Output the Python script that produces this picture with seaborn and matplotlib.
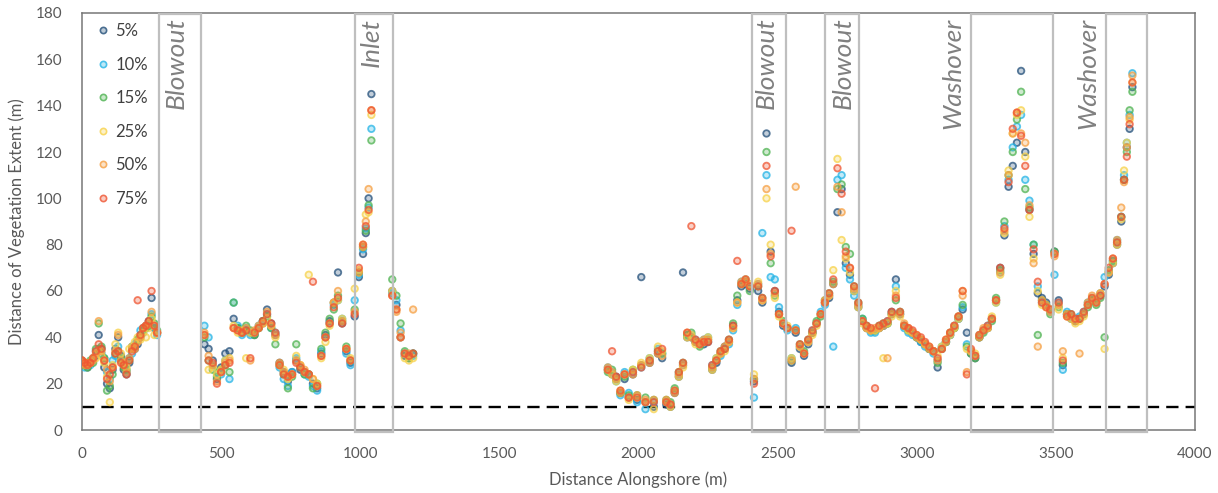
import matplotlib
matplotlib.use("Agg")
import matplotlib.pyplot as plt
from matplotlib.patches import Rectangle
from matplotlib.lines import Line2D
from matplotlib.colors import to_rgba
import pandas as pd
import seaborn as sns

# Transect positions along the shore (m)
x_m = [
    0, 10, 20, 30, 40, 50, 60, 70, 80, 90, 100, 110, 120, 130, 140, 150, 160, 170, 180, 190, 200, 210, 220, 230, 240, 250, 260, 270,
    440, 455, 470, 485, 500, 515, 530, 545, 560, 575, 590, 605, 620, 635, 650, 665, 680, 695, 710, 725, 740, 755, 770, 785, 800, 815,
    830, 845, 860, 875, 890, 905, 920, 935, 950, 965, 980, 995, 1010, 1020, 1030, 1040, 1115, 1130, 1145, 1160, 1175, 1190,
    1890, 1905, 1920, 1935, 1950, 1965, 1980, 1995, 2010, 2025, 2040, 2055, 2070, 2085, 2100, 2115,
    2130, 2145, 2160, 2175, 2190, 2205, 2220, 2235, 2250, 2265, 2280, 2295, 2310, 2325, 2340, 2355,
    2370, 2385, 2400, 2415, 2430, 2445, 2460, 2475, 2490, 2505, 2520, 2535, 2550, 2565, 2580, 2595,
    2610, 2625, 2640, 2655, 2670, 2685, 2700, 2715, 2730, 2745, 2760, 2775, 2790, 2805, 2820, 2835,
    2850, 2865, 2880, 2895, 2910, 2925, 2940, 2955, 2970, 2985, 3000, 3015, 3030, 3045, 3060, 3075,
    3090, 3105, 3120, 3135, 3150, 3165, 3180, 3195, 3210, 3225, 3240, 3255, 3270, 3285, 3300, 3315,
    3330, 3345, 3360, 3375, 3390, 3405, 3420, 3435, 3450, 3465, 3480, 3495, 3510, 3525, 3540, 3555,
    3570, 3585, 3600, 3615, 3630, 3645, 3660, 3675, 3690, 3705, 3720, 3735, 3745, 3755, 3765, 3775,
]

# Distance of vegetation extent (m) for each cover threshold
y_5 = [
    30, 28, 27, 29, 31, 32, 41, 35, 27, 20, 18, 26, 35, 40, 32, 26, 24, 29, 36, 35, 37, 41, 44, 45, 47, 57, 44, 42,
    37, 35, 30, 22, 27, 33, 34, 48, 44, 42, 43, 42, 41, 44, 47, 52, 46, 41, 29, 25, 21, 25, 30, 26, 25, 24,
    20, 18, 33, 41, 47, 55, 68, 46, 34, 29, 49, 66, 76, 85, 100, 145, 60, 54, 40, 32, 31, 33,
    26, 24, 23, 16, 22, 14, 24, 13, 66, 12, 29, 10, 33, 31, 11, 10,
    16, 23, 68, 40, 40, 38, 37, 37, 38, 26, 29, 33, 36, 38, 45, 56,
    62, 63, 61, 21, 60, 55, 128, 77, 60, 51, 45, 44, 29, 42, 35, 32,
    37, 42, 46, 50, 55, 57, 63, 94, 104, 72, 67, 60, 53, 47, 44, 43,
    43, 44, 45, 46, 51, 65, 50, 45, 43, 42, 40, 38, 37, 35, 34, 27,
    35, 38, 41, 44, 48, 52, 42, 33, 31, 40, 43, 44, 48, 56, 70, 84,
    105, 114, 124, 155, 120, 95, 76, 59, 57, 55, 52, 77, 56, 28, 50, 48,
    47, 48, 50, 54, 56, 55, 58, 62, 67, 72, 80, 90, 108, 122, 130, 148,
]
y_10 = [
    29, 27, 28, 28, 30, 34, 35, 33, 31, 25, 22, 30, 32, 36, 30, 28, 25, 31, 33, 37, 39, 43, 42, 44, 45, 50, 44, 41,
    45, 40, 28, 25, 24, 30, 22, 55, 45, 41, 44, 41, 42, 45, 46, 50, 44, 42, 27, 22, 19, 25, 31, 27, 24, 23,
    19, 17, 34, 40, 46, 54, 56, 48, 33, 28, 56, 67, 78, 87, 96, 130, 59, 56, 43, 33, 32, 32,
    27, 25, 21, 15, 25, 16, 25, 12, 27, 9, 31, 12, 35, 33, 12, 11,
    17, 24, 28, 41, 41, 39, 38, 39, 40, 28, 31, 32, 35, 37, 43, 54,
    64, 65, 62, 14, 63, 85, 110, 66, 65, 53, 46, 43, 31, 44, 36, 33,
    38, 43, 46, 51, 54, 58, 36, 108, 110, 70, 65, 58, 54, 48, 44, 42,
    42, 44, 45, 47, 50, 62, 50, 44, 42, 41, 40, 38, 36, 35, 33, 30,
    36, 38, 41, 45, 48, 53, 37, 34, 32, 41, 43, 45, 48, 55, 68, 88,
    108, 122, 131, 136, 108, 99, 80, 62, 55, 54, 51, 67, 55, 26, 51, 49,
    48, 49, 51, 55, 57, 56, 59, 66, 68, 73, 82, 92, 110, 124, 136, 154,
]
y_15 = [
    28, 28, 27, 30, 29, 35, 46, 36, 31, 17, 19, 24, 33, 34, 31, 27, 26, 30, 35, 36, 39, 40, 43, 44, 45, 49, 46, 43,
    40, 30, 26, 23, 26, 28, 25, 55, 44, 42, 45, 43, 41, 44, 47, 49, 44, 37, 28, 24, 18, 23, 37, 27, 24, 24,
    18, 20, 35, 42, 48, 52, 58, 47, 36, 30, 52, 68, 79, 86, 97, 125, 65, 58, 46, 34, 31, 33,
    25, 26, 22, 16, 23, 15, 26, 15, 28, 14, 30, 13, 34, 33, 13, 12,
    18, 25, 29, 41, 42, 38, 36, 38, 39, 27, 30, 34, 35, 39, 46, 58,
    63, 64, 60, 22, 62, 57, 120, 72, 58, 50, 47, 44, 30, 43, 37, 34,
    39, 42, 47, 49, 56, 59, 64, 104, 106, 79, 76, 62, 55, 48, 45, 43,
    43, 45, 46, 46, 50, 56, 51, 45, 43, 42, 40, 39, 37, 35, 34, 29,
    35, 38, 42, 44, 49, 54, 36, 33, 31, 40, 42, 44, 47, 57, 69, 90,
    110, 120, 134, 146, 104, 96, 80, 41, 56, 54, 50, 77, 53, 29, 50, 50,
    47, 48, 50, 53, 56, 54, 57, 40, 69, 73, 81, 92, 108, 120, 138, 146,
]
y_25 = [
    29, 29, 28, 29, 31, 31, 34, 32, 29, 23, 12, 28, 37, 42, 33, 29, 27, 35, 36, 38, 40, 39, 42, 40, 44, 48, 41, 42,
    41, 26, 27, 24, 26, 30, 31, 45, 42, 43, 31, 42, 42, 44, 46, 48, 45, 40, 28, 26, 22, 24, 32, 28, 25, 67,
    22, 20, 31, 38, 45, 55, 56, 48, 35, 31, 61, 69, 80, 93, 94, 136, 60, 52, 40, 31, 30, 31,
    26, 24, 21, 17, 24, 13, 26, 14, 29, 12, 31, 9, 36, 34, 12, 10,
    17, 23, 27, 40, 41, 37, 37, 38, 40, 26, 31, 33, 34, 38, 44, 55,
    63, 65, 63, 24, 64, 56, 100, 80, 57, 49, 46, 45, 31, 43, 36, 33,
    38, 41, 45, 50, 55, 58, 69, 117, 82, 74, 68, 60, 53, 46, 44, 43,
    43, 44, 31, 46, 49, 60, 49, 45, 43, 42, 41, 39, 37, 36, 34, 32,
    36, 39, 41, 44, 48, 60, 35, 34, 33, 41, 43, 44, 49, 55, 67, 85,
    112, 128, 136, 138, 118, 92, 74, 60, 54, 53, 52, 76, 52, 31, 49, 48,
    46, 47, 49, 54, 57, 55, 59, 35, 68, 72, 80, 91, 112, 124, 134, 150,
]
y_50 = [
    30, 28, 29, 29, 30, 33, 47, 34, 30, 26, 21, 27, 34, 41, 30, 28, 25, 31, 35, 35, 38, 40, 44, 45, 46, 51, 45, 42,
    42, 32, 28, 21, 25, 29, 30, 44, 43, 42, 44, 30, 43, 45, 46, 51, 45, 41, 29, 25, 23, 24, 30, 28, 26, 24,
    22, 19, 32, 40, 46, 55, 60, 47, 35, 30, 51, 68, 79, 90, 104, 138, 58, 51, 42, 33, 33, 52,
    27, 25, 22, 16, 24, 14, 24, 15, 28, 13, 29, 13, 33, 32, 13, 11,
    16, 24, 28, 42, 40, 38, 38, 39, 39, 27, 30, 33, 36, 38, 44, 55,
    64, 64, 62, 22, 63, 56, 104, 76, 59, 50, 46, 44, 30, 105, 36, 33,
    38, 42, 46, 50, 56, 58, 63, 105, 94, 75, 70, 61, 54, 47, 44, 43,
    44, 44, 45, 31, 50, 58, 50, 46, 44, 42, 40, 39, 37, 35, 34, 30,
    35, 38, 42, 45, 49, 58, 25, 34, 32, 40, 44, 44, 48, 56, 68, 86,
    110, 128, 137, 128, 124, 97, 72, 36, 56, 54, 51, 75, 54, 34, 50, 49,
    47, 33, 50, 55, 58, 56, 59, 63, 68, 74, 82, 96, 107, 122, 135, 153,
]
y_75 = [
    30, 29, 28, 29, 31, 34, 37, 35, 30, 22, 24, 27, 33, 34, 29, 28, 24, 30, 34, 36, 56, 41, 44, 45, 47, 60, 45, 42,
    41, 30, 29, 20, 25, 28, 29, 44, 43, 42, 43, 31, 42, 44, 47, 50, 46, 42, 28, 24, 23, 24, 29, 27, 25, 24,
    64, 19, 32, 40, 46, 53, 57, 46, 35, 30, 50, 70, 80, 88, 95, 138, 58, 52, 40, 33, 32, 33,
    26, 34, 23, 17, 24, 14, 25, 14, 27, 12, 30, 12, 34, 35, 12, 11,
    17, 25, 29, 42, 88, 39, 37, 38, 38, 28, 30, 34, 35, 39, 45, 73,
    63, 65, 62, 20, 62, 57, 114, 75, 60, 50, 46, 44, 86, 43, 37, 33,
    39, 43, 46, 50, 55, 59, 65, 113, 102, 77, 70, 62, 55, 47, 45, 44,
    18, 45, 46, 47, 51, 57, 51, 45, 44, 43, 41, 40, 38, 36, 34, 31,
    35, 39, 42, 45, 49, 60, 24, 35, 32, 41, 43, 45, 48, 56, 70, 87,
    107, 130, 137, 127, 114, 95, 78, 64, 55, 53, 52, 76, 55, 30, 49, 50,
    48, 48, 51, 54, 57, 55, 58, 63, 70, 74, 81, 92, 108, 118, 132, 150,
]

series_labels = ["5%", "10%", "15%", "25%", "50%", "75%"]
series_values = [y_5, y_10, y_15, y_25, y_50, y_75]
series_colors = ["#24507a", "#25b4e6", "#4fb352", "#f7d24a", "#f6a043", "#ef5532"]

# Landform zones: (label, start, end, label position) in metres alongshore
zone_labels = ["Blowout", "Inlet", "Blowout", "Blowout", "Washover", "Washover"]
zone_start = [277, 981, 2409, 2669, 3195, 3681]
zone_end = [428, 1119, 2529, 2792, 3490, 3828]
zone_text_x = [338, 1040, 2460, 2734, 3129, 3615]

threshold_line = 10

for vals in series_values:
    assert len(vals) == len(x_m)

frames = []
for lab, vals in zip(series_labels, series_values):
    frames.append(pd.DataFrame({"x": x_m, "y": vals, "series": lab}))
df = pd.concat(frames, ignore_index=True)

sns.set_theme(style="white")
plt.rcParams["font.family"] = ["Lato", "DejaVu Sans"]

fig = plt.figure(figsize=(12.18, 4.93), dpi=100)
ax = fig.add_axes([82 / 1218, 63 / 493, 1113 / 1218, 417 / 493])

sns.scatterplot(data=df, x="x", y="y", hue="series", hue_order=series_labels,
                palette=series_colors, s=22, linewidth=1.3, legend=False, ax=ax, zorder=3)

# ring-like markers: translucent fill, stronger edge
for coll in ax.collections:
    fc = coll.get_facecolors().copy()
    ec = fc.copy()
    fc[:, 3] = 0.28
    ec[:, 3] = 0.75
    coll.set_facecolors(fc)
    coll.set_edgecolors(ec)

ax.axhline(threshold_line, color="black", lw=1.7, dashes=(5.2, 3.0), zorder=2)

for lab, x0, x1, tx in zip(zone_labels, zone_start, zone_end, zone_text_x):
    ax.add_patch(Rectangle((x0, -0.8), x1 - x0, 180.2, fill=False, edgecolor="#bfbfbf",
                           lw=1.6, clip_on=False, zorder=4))
    ax.text(tx, 178, lab, rotation=90, ha="center", va="top", fontsize=19,
            style="italic", color="#808080", zorder=5)

ax.set_xlim(0, 4000)
ax.set_ylim(0, 180)
ax.set_xticks([0, 500, 1000, 1500, 2000, 2500, 3000, 3500, 4000])
ax.set_yticks([0, 20, 40, 60, 80, 100, 120, 140, 160, 180])
ax.tick_params(axis="both", length=0, labelsize=11, labelcolor="#595959")
ax.tick_params(axis="y", pad=14)
ax.tick_params(axis="x", pad=12)
ax.set_xlabel("Distance Alongshore (m)", fontsize=12, color="#595959", labelpad=8)
ax.set_ylabel("Distance of Vegetation Extent (m)", fontsize=12, color="#595959", labelpad=8)

for sp in ax.spines.values():
    sp.set_visible(True)
    sp.set_color("#767676")
    sp.set_linewidth(1.1)

handles = [
    Line2D([], [], ls="", marker="o", markersize=4.5, markeredgewidth=1.2,
           markerfacecolor=to_rgba(c, 0.3), markeredgecolor=to_rgba(c, 0.8), label=lab)
    for lab, c in zip(series_labels, series_colors)
]
ax.legend(handles=handles, loc="upper left", bbox_to_anchor=(0.0126, 0.976),
          frameon=False, fontsize=12, labelspacing=1.05, handlelength=0.8,
          handletextpad=0.35, borderpad=0, borderaxespad=0, labelcolor="#404040")

fig.savefig("out.png", dpi=100)
